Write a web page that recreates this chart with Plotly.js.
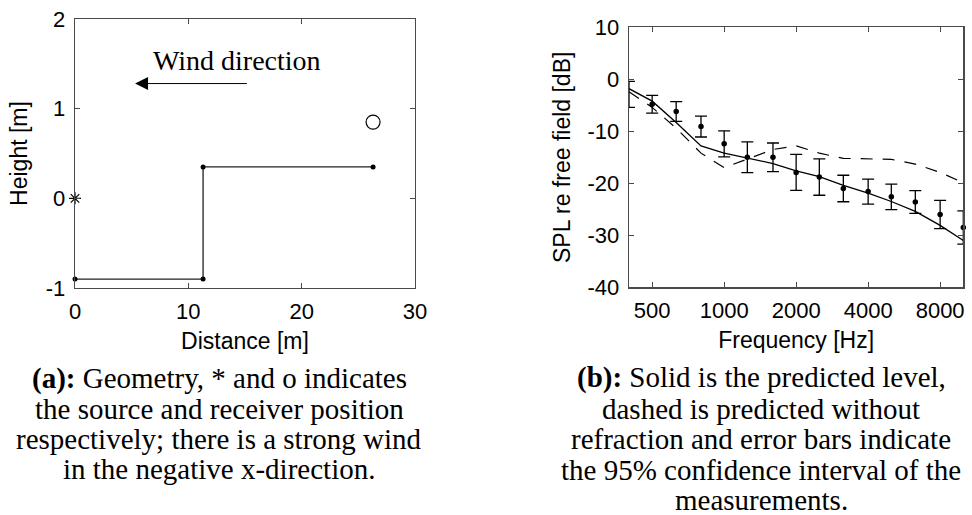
<!DOCTYPE html>
<html>
<head>
<meta charset="utf-8">
<script src="https://cdn.plot.ly/plotly-3.0.1.min.js"></script>
<style>html,body{margin:0;padding:0;background:#fff;}#chart{width:972px;height:515px;}</style>
</head>
<body>
<div id="chart"></div>
<script>
// ---- Panel (a): geometry ----
const groundX = [0, 11.3, 11.3, 26.3];
const groundY = [-0.9, -0.9, 0.35, 0.35];
const sourceX = [0];
const sourceY = [0];
const receiverX = [26.3];
const receiverY = [0.85];
const windTail = [15.3, 1.28];
const windHead = [5.3, 1.28];
const distTicks = [0, 10, 20, 30];
const distTickText = ['0', '10', '20', '30'];
const heightTicks = [-1, 0, 1, 2];
const heightTickText = ['-1', '0', '1', '2'];

// ---- Panel (b): SPL vs frequency ----
const freq = [400, 500, 630, 800, 1000, 1250, 1600, 2000, 2500, 3150, 4000, 5000, 6300, 8000, 10000];
const measured = [-2.9, -4.8, -6.2, -9.1, -12.4, -15.0, -15.0, -17.9, -18.8, -21.0, -21.6, -22.6, -23.6, -26.0, -28.5];
const measErr = [2.5, 1.7, 1.9, 2.0, 2.5, 2.95, 2.75, 3.45, 3.5, 2.55, 2.4, 2.45, 2.2, 2.7, 3.2];
const predicted = [-1.8, -4.2, -8.3, -12.8, -14.2, -15.1, -16.2, -17.6, -18.7, -20.4, -21.9, -23.5, -25.4, -28.1, -31.0];
const noRefraction = [-2.4, -5.4, -9.4, -14.2, -17.0, -15.3, -13.5, -12.8, -14.2, -15.2, -15.3, -15.4, -16.3, -17.9, -19.9];
const freqTicks = [500, 1000, 2000, 4000, 8000];
const freqTickText = ['500', '1000', '2000', '4000', '8000'];
const splTicks = [-40, -30, -20, -10, 0, 10];
const splTickText = ['-40', '-30', '-20', '-10', '0', '10'];

const captionA = ['<b>(a):</b> Geometry, * and o indicates',
                  'the source and receiver position',
                  'respectively; there is a strong wind',
                  'in the negative x-direction.'];
const captionB = ['<b>(b):</b> Solid is the predicted level,',
                  'dashed is predicted without',
                  'refraction and error bars indicate',
                  'the 95% confidence interval of the',
                  'measurements.'];

const W = 972, H = 515;
const sans = 'Liberation Sans, Arial, sans-serif';
const serif = 'Liberation Serif, Times New Roman, serif';
const frame = '#4a4a4a';

const traces = [
  {x: groundX, y: groundY, mode: 'lines+markers', xaxis: 'x', yaxis: 'y',
   line: {color: '#222', width: 1.3}, marker: {color: '#000', size: 5}, cliponaxis: false, showlegend: false},
  {x: sourceX, y: sourceY, mode: 'markers', xaxis: 'x', yaxis: 'y',
   marker: {symbol: 'asterisk-open', size: 10, color: '#000', line: {color: '#000', width: 1.2}}, cliponaxis: false, showlegend: false},
  {x: receiverX, y: receiverY, mode: 'markers', xaxis: 'x', yaxis: 'y',
   marker: {symbol: 'circle-open', size: 14, color: '#000', line: {color: '#000', width: 1.2}}, cliponaxis: false, showlegend: false},

  {x: freq, y: noRefraction, mode: 'lines', xaxis: 'x2', yaxis: 'y2',
   line: {color: '#000', width: 1.2, dash: '12px,10px'}, showlegend: false},
  {x: freq, y: predicted, mode: 'lines', xaxis: 'x2', yaxis: 'y2',
   line: {color: '#000', width: 1.3}, showlegend: false},
  {x: freq, y: measured, mode: 'markers', xaxis: 'x2', yaxis: 'y2',
   marker: {color: '#000', size: 5, opacity: 0},
   error_y: {type: 'data', array: measErr, visible: true, color: '#000', thickness: 1.3, width: 6},
   showlegend: false},
  {x: freq, y: measured, mode: 'markers', xaxis: 'x2', yaxis: 'y2',
   marker: {color: '#000', size: 5.5}, cliponaxis: false, showlegend: false}
];

function axisBase() {
  return {
    showgrid: false, zeroline: false, showline: true, mirror: 'ticks',
    linecolor: frame, linewidth: 1.3, ticks: 'inside', ticklen: 5, tickwidth: 1, tickcolor: frame,
    tickmode: 'array',
    tickfont: {family: sans, size: 22, color: '#000'}
  };
}

const annotations = [];
annotations.push({x: windHead[0], y: windHead[1], ax: windTail[0], ay: windTail[1],
  xref: 'x', yref: 'y', axref: 'x', ayref: 'y', text: '', showarrow: true,
  arrowhead: 2, arrowsize: 2.6, arrowwidth: 1, arrowcolor: '#000', standoff: 0, startstandoff: 0});
annotations.push({x: 14.3, y: 1.54, xref: 'x', yref: 'y', text: 'Wind direction', showarrow: false,
  xanchor: 'center', yanchor: 'middle', font: {family: serif, size: 28, color: '#000'}});

const baseA = [378, 409, 439, 469];
captionA.forEach((t, i) => annotations.push({x: 219 / W, y: 1 - baseA[i] / H, xref: 'paper', yref: 'paper',
  text: t, showarrow: false, xanchor: 'center', yanchor: 'middle', font: {family: serif, size: 29, color: '#000'}}));
const baseB = [377, 409, 439, 470, 500];
captionB.forEach((t, i) => annotations.push({x: 761 / W, y: 1 - baseB[i] / H, xref: 'paper', yref: 'paper',
  text: t, showarrow: false, xanchor: 'center', yanchor: 'middle', font: {family: serif, size: 29, color: '#000'}}));

const layout = {
  width: W, height: H, margin: {l: 0, r: 0, t: 0, b: 0},
  paper_bgcolor: '#fff', plot_bgcolor: '#fff', showlegend: false,
  xaxis: Object.assign(axisBase(), {domain: [75 / W, 415 / W], range: [0, 30], anchor: 'y',
    tickvals: distTicks, ticktext: distTickText, ticklabelstandoff: 3,
    title: {text: 'Distance [m]', font: {family: sans, size: 23, color: '#000'}, standoff: 10}}),
  yaxis: Object.assign(axisBase(), {domain: [1 - 288 / H, 1 - 19 / H], range: [-1, 2], anchor: 'x',
    tickvals: heightTicks, ticktext: heightTickText, ticklabelstandoff: 4,
    title: {text: 'Height [m]', font: {family: sans, size: 23, color: '#000'}, standoff: 11}}),
  xaxis2: Object.assign(axisBase(), {domain: [629 / W, 963.3 / W], type: 'log', range: [Math.log10(400), 4], anchor: 'y2',
    tickvals: freqTicks, ticktext: freqTickText, ticklabelstandoff: 3,
    title: {text: 'Frequency [Hz]', font: {family: sans, size: 23, color: '#000'}, standoff: 10}}),
  yaxis2: Object.assign(axisBase(), {domain: [1 - 287.3 / H, 1 - 27.3 / H], range: [-40, 10], anchor: 'x2',
    tickvals: splTicks, ticktext: splTickText, ticklabelstandoff: 4,
    title: {text: 'SPL re free field [dB]', font: {family: sans, size: 23, color: '#000'}, standoff: 10}}),
  annotations: annotations
};

Plotly.newPlot('chart', traces, layout, {displayModeBar: false, staticPlot: true});
</script>
</body>
</html>
